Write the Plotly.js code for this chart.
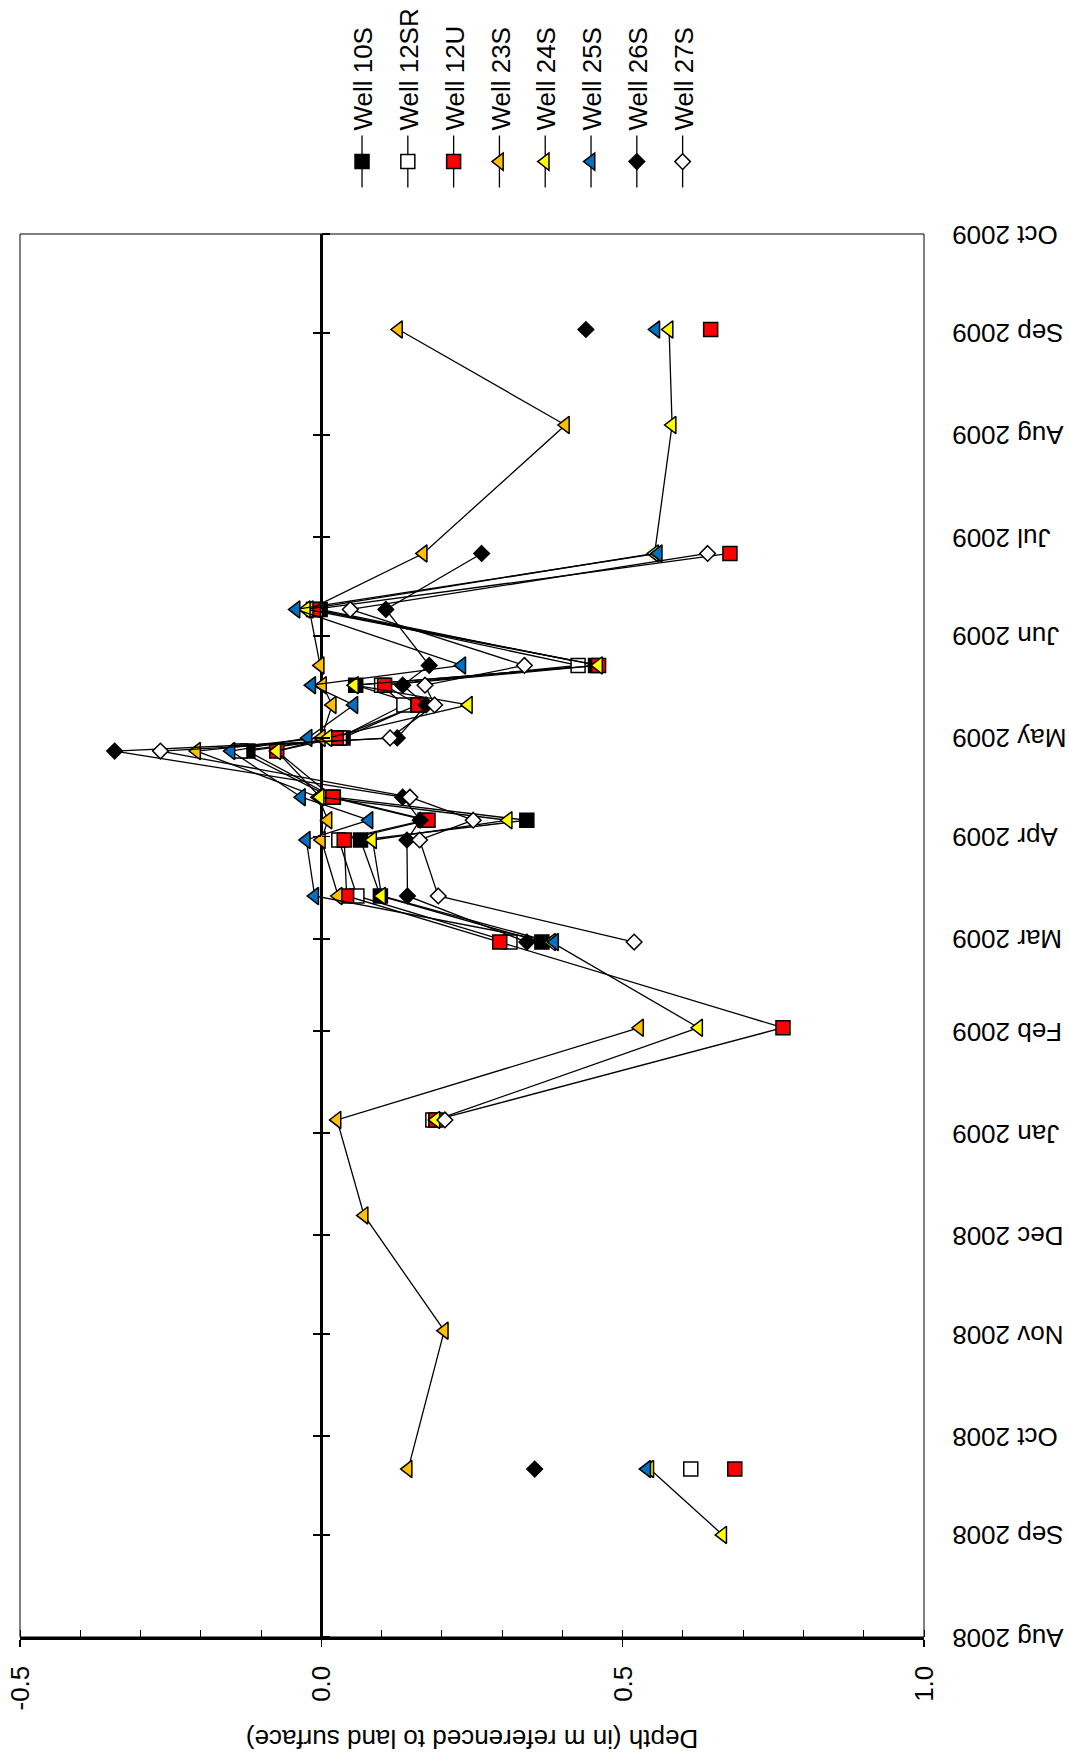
<!DOCTYPE html>
<html>
<head>
<meta charset="utf-8">
<script src="https://cdn.plot.ly/plotly-3.0.1.min.js"></script>
<style>
html,body{margin:0;padding:0;width:1069px;height:1762px;overflow:hidden;background:#fff}
#wrap{position:absolute;left:0;top:0;width:1762px;height:1069px;transform-origin:0 0;transform:translate(0px,1762px) rotate(-90deg);}
#chart{width:1762px;height:1069px}
</style>
</head>
<body>
<div id="wrap"><div id="chart"></div></div>
<script>
// Sampling dates
const dates = ['2008-09-01','2008-09-21','2008-11-02','2008-12-07','2009-01-05','2009-02-02','2009-02-28',
  '2009-03-14','2009-03-31','2009-04-06','2009-04-13','2009-04-27','2009-05-01','2009-05-11','2009-05-17',
  '2009-05-23','2009-06-09','2009-06-26','2009-08-04','2009-09-02'];

// Depth (m referenced to land surface) for each well
const well10S  = [null, null, null, null, null, null, 0.366, 0.098, 0.065, 0.341, 0.020, -0.122, 0.036, 0.160, 0.057, 0.455, -0.002, null, null, null];
const well12SR = [null, 0.613, null, null, 0.185, null, 0.313, 0.059, 0.029, 0.172, 0.015, -0.135, 0.030, 0.137, 0.100, 0.426, -0.010, null, null, null];
const well12U  = [null, 0.686, null, null, 0.190, 0.766, 0.296, 0.042, 0.038, 0.177, 0.019, -0.074, 0.025, 0.161, 0.105, 0.460, -0.013, 0.678, null, 0.646];
const well23S  = [null, 0.144, 0.204, 0.071, 0.026, 0.528, null, 0.028, 0.000, 0.011, -0.005, -0.207, 0.000, 0.018, 0.002, -0.002, -0.020, 0.169, 0.405, 0.128];
const well24S  = [0.666, 0.545, null, null, 0.190, 0.626, 0.382, 0.100, 0.085, 0.310, -0.002, -0.074, 0.011, 0.244, 0.055, 0.460, -0.025, 0.553, 0.582, 0.577];
const well25S  = [null, 0.540, null, null, null, null, 0.387, -0.011, -0.025, 0.079, -0.033, -0.150, -0.022, 0.054, -0.016, 0.233, -0.042, 0.559, null, 0.555];
const well26S  = [null, 0.354, null, null, null, null, 0.341, 0.143, 0.142, 0.164, 0.135, -0.343, 0.126, 0.174, 0.135, 0.179, 0.107, 0.266, null, 0.439];
const well27S  = [null, null, null, null, 0.205, null, 0.519, 0.194, 0.163, 0.252, 0.147, -0.267, 0.114, 0.188, 0.172, 0.337, 0.048, 0.641, null, null];

const seriesNames = ['Well 10S','Well 12SR','Well 12U','Well 23S','Well 24S','Well 25S','Well 26S','Well 27S'];
const depthTickVals = [-0.5, 0.0, 0.5, 1.0];
const depthTickText = ['-0.5', '0.0', '0.5', '1.0'];

const seriesValues = [well10S, well12SR, well12U, well23S, well24S, well25S, well26S, well27S];
const styles = [
  {symbol:'square', color:'#000000', size:14},
  {symbol:'square', color:'#FFFFFF', size:14},
  {symbol:'square', color:'#FF0000', size:14},
  {symbol:'triangle-up', color:'#FFC000', size:15},
  {symbol:'triangle-up', color:'#FFFF00', size:15},
  {symbol:'triangle-up', color:'#0070C0', size:15},
  {symbol:'diamond', color:'#000000', size:12},
  {symbol:'diamond', color:'#FFFFFF', size:12}
];

const FONT = 'Arial, "Liberation Sans", sans-serif';
const xRange = ['2008-08-01','2009-10-01'];

const traces = seriesNames.map((name, i) => ({
  type:'scatter', mode:'lines+markers', name:name, legendgroup:'g'+i,
  x: dates, y: seriesValues[i], connectgaps:false, cliponaxis:false,
  line:{color:'black', width:1.3},
  marker:{symbol:styles[i].symbol, size:styles[i].size, color:styles[i].color, line:{color:'black', width:1.5}}
}));
// helper traces so the overlay axes (ticks on the zero line, crossing ticks on value axis) are drawn
traces.push({type:'scatter', x:[null], y:[null], xaxis:'x2', yaxis:'y', showlegend:false, hoverinfo:'skip'});
traces.push({type:'scatter', x:[null], y:[null], xaxis:'x3', yaxis:'y', showlegend:false, hoverinfo:'skip'});
traces.push({type:'scatter', x:[null], y:[null], xaxis:'x', yaxis:'y2', showlegend:false, hoverinfo:'skip'});

const dateOverlay = (tickdir) => ({
  type:'date', range:xRange, overlaying:'x', anchor:'free', position:2/3,
  tick0:'2008-08-01', dtick:'M1', ticks:tickdir, ticklen:8, tickwidth:1.5, tickcolor:'black',
  showticklabels:false, showline:false, showgrid:false, zeroline:false
});

const layout = {
  width:1762, height:1069,
  margin:{l:125, r:234, t:20, b:145, autoexpand:false},
  paper_bgcolor:'white', plot_bgcolor:'white',
  font:{family:FONT, size:26, color:'black'},
  showlegend:true,
  legend:{x:1.0295, xanchor:'left', y:0.444, yanchor:'middle', font:{family:FONT, size:26, color:'black'},
          itemwidth:52, tracegroupgap:9, bgcolor:'rgba(0,0,0,0)', borderwidth:0},
  xaxis:{type:'date', range:xRange, tick0:'2008-08-01', dtick:'M1', tickformat:'%b %Y', tickangle:-90,
         ticks:'', showline:false, showgrid:false, zeroline:false, ticklabelstandoff:22, automargin:false,
         tickfont:{family:FONT, size:26, color:'black'}},
  xaxis2: dateOverlay('outside'),
  xaxis3: dateOverlay('inside'),
  yaxis:{range:[1.0,-0.5], tickvals:depthTickVals, ticktext:depthTickText, ticks:'outside', ticklen:7, tickwidth:1.5,
         tickcolor:'black', showline:true, linewidth:2.5, linecolor:'black', showgrid:false, automargin:false,
         zeroline:true, zerolinewidth:2.5, zerolinecolor:'black', ticklabelstandoff:14,
         minor:{dtick:0.1, tick0:-0.5, ticks:'inside', ticklen:7, tickwidth:1, tickcolor:'black', showgrid:false},
         tickfont:{family:FONT, size:26, color:'black'},
         title:{text:'Depth (in m referenced to land surface)', standoff:12, font:{family:FONT, size:26, color:'black'}}},
  yaxis2:{range:[1.0,-0.5], overlaying:'y', anchor:'x', side:'left', tickvals:depthTickVals, ticks:'inside', ticklen:7,
          tickwidth:1.5, tickcolor:'black', showticklabels:false, showline:false, showgrid:false, zeroline:false},
  shapes:[{type:'rect', xref:'paper', yref:'paper', x0:0, x1:1, y0:0, y1:1, line:{color:'black', width:1}, layer:'below'}]
};

Plotly.newPlot('chart', traces, layout, {displayModeBar:false, staticPlot:true});
</script>
</body>
</html>
